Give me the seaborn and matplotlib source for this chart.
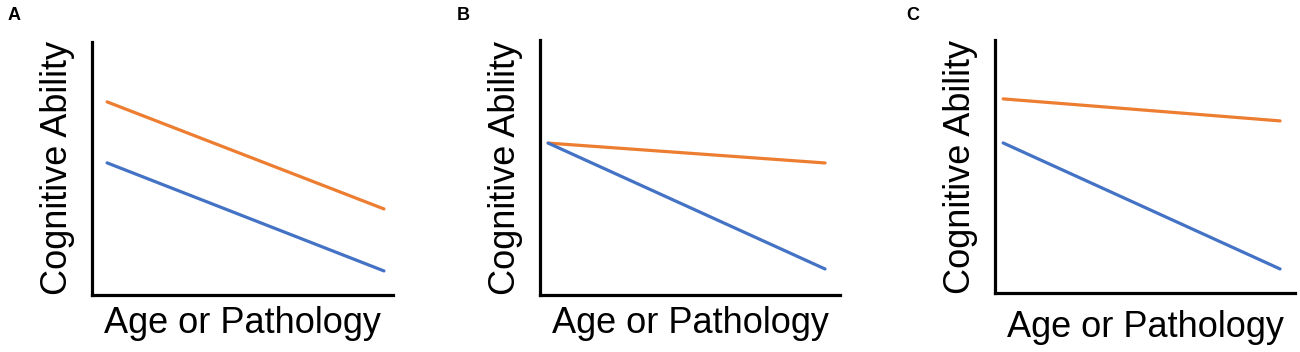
import pandas as pd
import seaborn as sns
import matplotlib.pyplot as plt

# panel data (arbitrary units)
panels = ["A", "B", "C"]
x_vals = [[0.5, 9.7], [0.27, 9.5], [0.27, 9.5]]
orange_vals = [[7.63, 3.40], [5.96, 5.18], [7.67, 6.80]]
blue_vals = [[5.22, 0.95], [5.96, 1.02], [5.93, 0.95]]
xlabel = "Age or Pathology"
ylabel = "Cognitive Ability"

sns.set_style("white")
plt.rcParams["font.family"] = ["Liberation Sans", "DejaVu Sans"]
plt.rcParams["text.color"] = "black"
plt.rcParams["axes.labelcolor"] = "black"

fig = plt.figure(figsize=(13, 3.52), dpi=100)
# axes boxes in figure fraction
boxes = [[0.0708, 0.162, 0.2315, 0.719],
         [0.4154, 0.162, 0.2308, 0.724],
         [0.7654, 0.1676, 0.2308, 0.719]]
letter_x = [0.006, 0.351, 0.697]
xlabel_pad = [8, 8, 12]

for i, name in enumerate(panels):
    ax = fig.add_axes(boxes[i])
    df = pd.DataFrame({
        "x": x_vals[i] * 2,
        "y": orange_vals[i] + blue_vals[i],
        "group": ["high"] * 2 + ["low"] * 2,
    })
    sns.lineplot(data=df, x="x", y="y", hue="group",
                 palette={"high": "#ED7D31", "low": "#4472C4"},
                 linewidth=2.3, legend=False, ax=ax)
    ax.set_xlim(0, 10)
    ax.set_ylim(0, 10)
    ax.set_xticks([])
    ax.set_yticks([])
    sns.despine(ax=ax)
    for s in ["left", "bottom"]:
        ax.spines[s].set_linewidth(2.3)
        ax.spines[s].set_color("black")
    ax.set_xlabel(xlabel, fontsize=26, labelpad=xlabel_pad[i])
    ax.set_ylabel(ylabel, fontsize=26, labelpad=12)
    fig.text(letter_x[i], 0.955, name, fontsize=13, fontweight="bold",
             ha="left", va="center")

fig.savefig("out.png", dpi=100)
